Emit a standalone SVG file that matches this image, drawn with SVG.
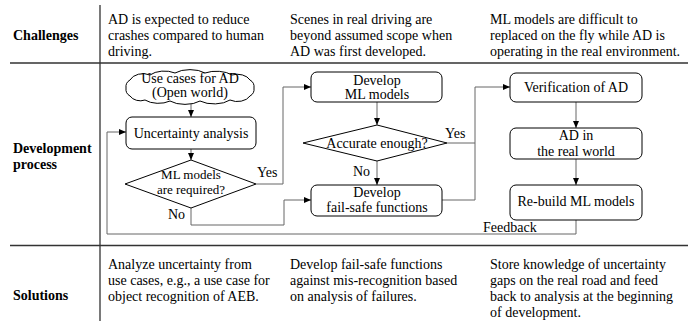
<svg xmlns="http://www.w3.org/2000/svg" width="699" height="324" viewBox="0 0 699 324" font-family="'Liberation Serif', 'Times New Roman', Times, serif">
<defs>
<marker id="arr" markerWidth="7" markerHeight="6" refX="7" refY="3" orient="auto" markerUnits="userSpaceOnUse"><path d="M0,0 L7,3 L0,6 z" fill="#000"/></marker>
</defs>
<style>
text{font-family:'Liberation Serif','Times New Roman',Times,serif;font-size:14px;fill:#000}
.b{font-weight:bold}
.c{text-anchor:middle}
.s{font-size:13px}
.box{fill:#fff;stroke:#000;stroke-width:1}
.ln{fill:none;stroke:#666;stroke-width:1}
.tb{stroke:#333;stroke-width:1.3;fill:none}
</style>
<rect width="699" height="324" fill="#fff"/>
<g id="table">
<path class="tb" d="M100,5 V321 M10,63 H688 M10,245.5 H688"/>
<text class="b" x="13" y="40">Challenges</text>
<text class="b" x="13" y="153">Development</text>
<text class="b" x="13" y="169">process</text>
<text class="b" x="13" y="300">Solutions</text>
<text x="108" y="24">AD is expected to reduce</text>
<text x="108" y="40">crashes compared to human</text>
<text x="108" y="56">driving.</text>
<text x="290" y="24">Scenes in real driving are</text>
<text x="290" y="40">beyond assumed scope when</text>
<text x="290" y="56">AD was first developed.</text>
<text x="490" y="24">ML models are difficult to</text>
<text x="490" y="40">replaced on the fly while AD is</text>
<text x="490" y="56">operating in the real environment.</text>
<text x="108" y="269">Analyze uncertainty from</text>
<text x="108" y="285">use cases, e.g., a use case for</text>
<text x="108" y="301">object recognition of AEB.</text>
<text x="290" y="269">Develop fail-safe functions</text>
<text x="290" y="285">against mis-recognition based</text>
<text x="290" y="301">on analysis of failures.</text>
<text x="490" y="269">Store knowledge of uncertainty</text>
<text x="490" y="285">gaps on the real road and feed</text>
<text x="490" y="301">back to analysis at the beginning</text>
<text x="490" y="317">of development.</text>
</g>
<g id="connectors">
<path class="ln" d="M191,101 V117" marker-end="url(#arr)"/>
<path class="ln" d="M191,149 V160" marker-end="url(#arr)"/>
<path class="ln" d="M256,184 H283 V87 H311" marker-end="url(#arr)"/>
<path class="ln" d="M191,208 V225 H284 V200 H311" marker-end="url(#arr)"/>
<path class="ln" d="M377,102 V125" marker-end="url(#arr)"/>
<path class="ln" d="M377,161 V185" marker-end="url(#arr)"/>
<path class="ln" d="M447,143 H475"/>
<path class="ln" d="M442,200 H475 V87 H510" marker-end="url(#arr)"/>
<path class="ln" d="M576,102 V128" marker-end="url(#arr)"/>
<path class="ln" d="M576,159 V185" marker-end="url(#arr)"/>
<path class="ln" d="M576,220 V234 H107 V132 H126" marker-end="url(#arr)"/>
<text x="257" y="177">Yes</text>
<text x="168" y="219">No</text>
<text x="445" y="138">Yes</text>
<text x="353" y="176">No</text>
<text x="483" y="232">Feedback</text>
</g>
<g id="cloud">
<path class="box" d="M130,80 A14,10 0 0 1 150,75 A18,10 0 0 1 175,73 A20,10 0 0 1 205,73 A20,10 0 0 1 232,75 A14,10 0 0 1 250,80 A8,8 0 0 1 254,88 A8,8 0 0 1 250,96 A14,10 0 0 1 230,100 A20,10 0 0 1 200,101 A20,10 0 0 1 170,101 A18,10 0 0 1 145,100 A12,10 0 0 1 130,96 A8,8 0 0 1 126,88 A8,8 0 0 1 130,80 Z"/>
<text class="c" x="190" y="83">Use cases for AD</text>
<text class="c" x="190" y="97">(Open world)</text>
</g>
<g id="uncertainty">
<rect class="box" x="126" y="117" width="130" height="32" rx="6"/>
<text class="c" x="191" y="138">Uncertainty analysis</text>
</g>
<g id="ml-required">
<path class="box" d="M191,160 L256,184 L191,208 L125,184 Z"/>
<text class="c s" x="191" y="179">ML models</text>
<text class="c s" x="191" y="194">are required?</text>
</g>
<g id="develop-ml">
<rect class="box" x="311" y="72" width="131" height="30" rx="6"/>
<text class="c" x="377" y="85">Develop</text>
<text class="c" x="377" y="99">ML models</text>
</g>
<g id="accurate">
<path class="box" d="M377,125 L447,143 L377,161 L303,143 Z"/>
<text class="c" x="377" y="148">Accurate enough?</text>
</g>
<g id="failsafe">
<rect class="box" x="311" y="185" width="131" height="31" rx="6"/>
<text class="c" x="377" y="197">Develop</text>
<text class="c" x="377" y="212">fail-safe functions</text>
</g>
<g id="verification">
<rect class="box" x="510" y="73" width="132" height="29" rx="6"/>
<text class="c" x="576" y="92">Verification of AD</text>
</g>
<g id="ad-real">
<rect class="box" x="510" y="128" width="132" height="31" rx="6"/>
<text class="c" x="576" y="140">AD in</text>
<text class="c" x="576" y="156">the real world</text>
</g>
<g id="rebuild">
<rect class="box" x="510" y="185" width="132" height="35" rx="6"/>
<text class="c" x="576" y="206">Re-build ML models</text>
</g>
</svg>
